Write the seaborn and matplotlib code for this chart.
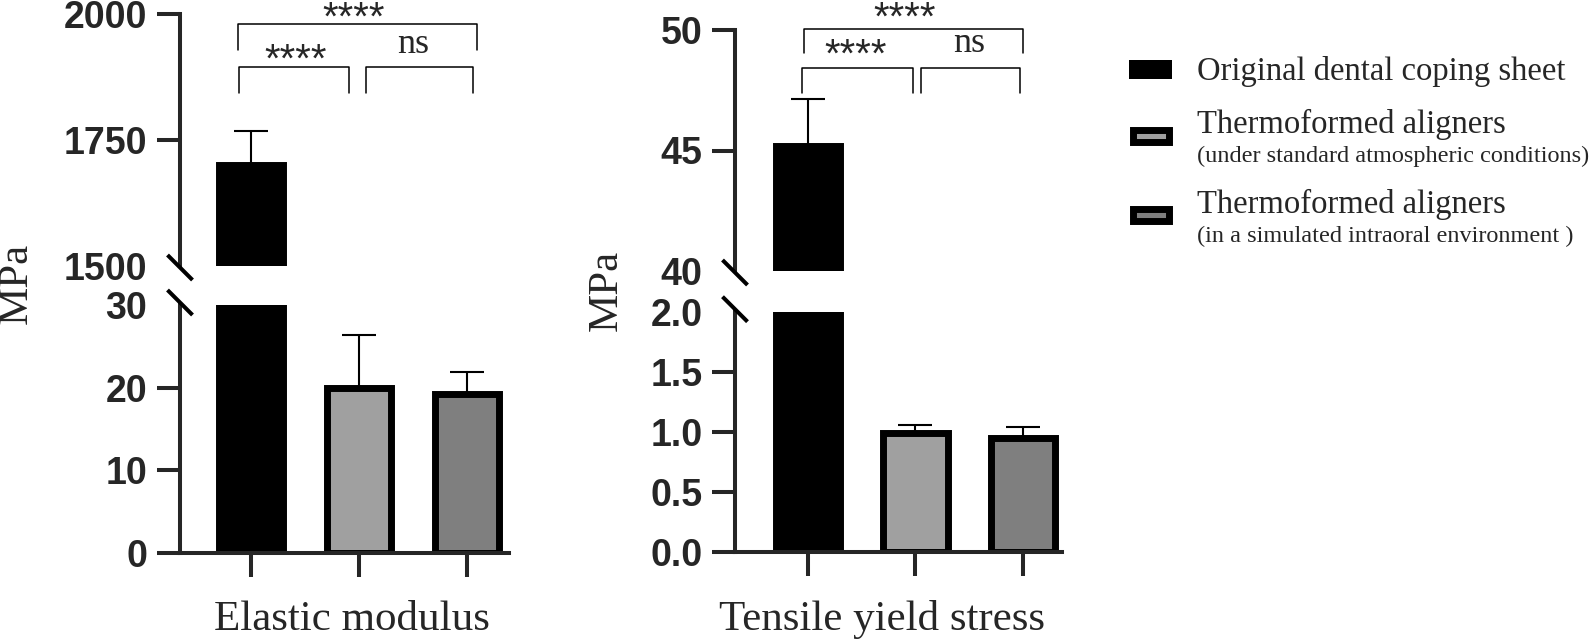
import numpy as np
import pandas as pd
import seaborn as sns
import matplotlib.pyplot as plt
from matplotlib.patches import Rectangle

# ---- data ----
groups = ["Original dental coping sheet",
          "Thermoformed aligners (standard)",
          "Thermoformed aligners (intraoral)"]
bar_colors = ["#000000", "#a0a0a0", "#7f7f7f"]

modulus_mean = [1701, 20.0, 19.2]
modulus_sd = [67, 6.4, 2.7]
yield_mean = [45.17, 0.99, 0.95]
yield_sd = [1.97, 0.07, 0.09]

legend_titles = ["Original dental coping sheet",
                 "Thermoformed aligners",
                 "Thermoformed aligners"]
legend_notes = ["",
                "(under standard atmospheric conditions)",
                "(in a simulated intraoral environment )"]

sns.set_style("ticks")
plt.rcParams['font.family'] = ['Liberation Serif', 'DejaVu Serif']

W, H = 1592, 642
fig = plt.figure(figsize=(W / 100, H / 100), dpi=100)


def px_axes(l, t, r, b):
    return fig.add_axes([l / W, 1 - b / H, (r - l) / W, (b - t) / H])


LW = 2.9
SANS = ['Liberation Sans', 'DejaVu Sans']
SERIF = ['Liberation Serif', 'DejaVu Serif']


def draw_bars(ax, means, sds):
    df = pd.DataFrame({"group": groups, "value": means})
    sns.barplot(data=df, x="group", y="value", hue="group", palette=bar_colors,
                width=0.6, errorbar=None, legend=False, ax=ax, saturation=1)
    for p in ax.patches:
        p.set_edgecolor("black")
        p.set_linewidth(5)
    ax.errorbar(x=np.arange(len(means)), y=means,
                yerr=[np.zeros(len(sds)), sds], fmt="none", ecolor="black",
                elinewidth=1.5, capsize=12.5, capthick=1.5, zorder=3)
    ax.set_xlabel("")
    ax.set_ylabel("")
    ax.set_facecolor("none")
    for s in ax.spines.values():
        s.set_linewidth(LW)


def set_yaxis(ax, lim, ticks, labels, hide_idx):
    ax.set_ylim(*lim)
    ax.set_yticks(ticks)
    ax.set_yticklabels(labels, fontweight="bold", fontsize=27, fontfamily=SANS)
    ax.tick_params(axis="y", length=16.5, width=LW, pad=7)
    ax.yaxis.get_major_ticks()[hide_idx].tick1line.set_visible(False)


def bracket(ax, x1, x2, y, h, text, tx, ty, fs, family):
    ax.plot([x1, x1, x2, x2], [y - h, y, y, y - h], color="black", lw=1.1,
            clip_on=False)
    ax.text(tx, ty, text, ha="center", va="baseline",
            fontsize=fs, fontfamily=family, clip_on=False)


panels = [
    dict(means=modulus_mean, sds=modulus_sd, box_x=(180, 509), hi_y=(14, 266),
         lo_y=(305, 553), xlim=(-0.657, 2.389),
         hi=((1500, 2000), [1500, 1750, 2000], ["1500", "1750", "2000"]),
         lo=((0, 30), [0, 10, 20, 30], ["0", "10", "20", "30"]),
         xlabel="Elastic modulus", xlabel_pos=(352, 630), ylabel_pos=(17, 283)),
    dict(means=yield_mean, sds=yield_sd, box_x=(735, 1062), hi_y=(30, 271),
         lo_y=(311.7, 551.7), xlim=(-0.679, 2.363),
         hi=((40, 50), [40, 45, 50], ["40", "45", "50"]),
         lo=((0, 2.0), [0, 0.5, 1.0, 1.5, 2.0], ["0.0", "0.5", "1.0", "1.5", "2.0"]),
         xlabel="Tensile yield stress", xlabel_pos=(882, 630), ylabel_pos=(607, 290)),
]

axes_pairs = []
for pn in panels:
    l, r = pn["box_x"]
    ax_hi = px_axes(l, pn["hi_y"][0], r, pn["hi_y"][1])
    ax_lo = px_axes(l, pn["lo_y"][0], r, pn["lo_y"][1])
    for ax in (ax_hi, ax_lo):
        draw_bars(ax, pn["means"], pn["sds"])
        ax.set_xlim(*pn["xlim"])
        ax.spines["top"].set_visible(False)
        ax.spines["right"].set_visible(False)
    ax_hi.spines["bottom"].set_visible(False)
    ax_hi.tick_params(axis="x", bottom=False, labelbottom=False)
    ax_lo.tick_params(axis="x", length=17, width=LW, labelbottom=False)
    set_yaxis(ax_hi, *pn["hi"], hide_idx=0)
    set_yaxis(ax_lo, *pn["lo"], hide_idx=-1)
    axes_pairs.append((ax_hi, ax_lo))

# significance brackets (upper axes data coordinates)
ahi = axes_pairs[0][0]
bracket(ahi, -0.12, 2.09, 1980, 51, "****", 0.955, 1969, 29, SANS)
bracket(ahi, -0.11, 0.907, 1895, 51, "****", 0.41, 1885.5, 29, SANS)
bracket(ahi, 1.065, 2.056, 1895, 51, "ns", 1.5, 1922.6, 26, SERIF)
ahi = axes_pairs[1][0]
bracket(ahi, -0.04, 2.0, 50.04, 1.0, "****", 0.90, 50.01, 29, SANS)
bracket(ahi, -0.056, 0.977, 48.43, 1.04, "****", 0.447, 48.48, 29, SANS)
bracket(ahi, 1.05, 1.97, 48.43, 1.04, "ns", 1.5, 49.09, 26, SERIF)

# overlay in pixel coordinates: axis breaks, labels, legend
ov = fig.add_axes([0, 0, 1, 1])
ov.set_xlim(0, W)
ov.set_ylim(H, 0)
ov.axis("off")
ov.patch.set_alpha(0)

for pn in panels:
    x0 = pn["box_x"][0]
    for yc in (pn["hi_y"][1] + 1.5, pn["lo_y"][0] - 2.5):
        ov.plot([x0 - 12.5, x0 + 12.5], [yc - 12.5, yc + 12.5], color="black",
                lw=LW, solid_capstyle="butt")
    ov.text(*pn["xlabel_pos"], pn["xlabel"], ha="center", va="baseline", fontsize=31)
    ov.text(*pn["ylabel_pos"], "MPa", ha="center", va="center", rotation=90, fontsize=31)

leg_rows = [(60, 80, None), (126, 133, 162), (205, 213, 242)]
for (top, base, note_base), title, note, col in zip(leg_rows, legend_titles,
                                                     legend_notes, bar_colors):
    if col == "#000000":
        ov.add_patch(Rectangle((1129, top), 43, 19, facecolor="black", edgecolor="none"))
    else:
        ov.add_patch(Rectangle((1132.5, top + 3.5), 36, 12, facecolor=col,
                               edgecolor="black", lw=5))
    ov.text(1197, base, title, ha="left", va="baseline", fontsize=23.5)
    if note:
        ov.text(1197, note_base, note, ha="left", va="baseline", fontsize=17.5)

fig.savefig("out.png", dpi=100)
